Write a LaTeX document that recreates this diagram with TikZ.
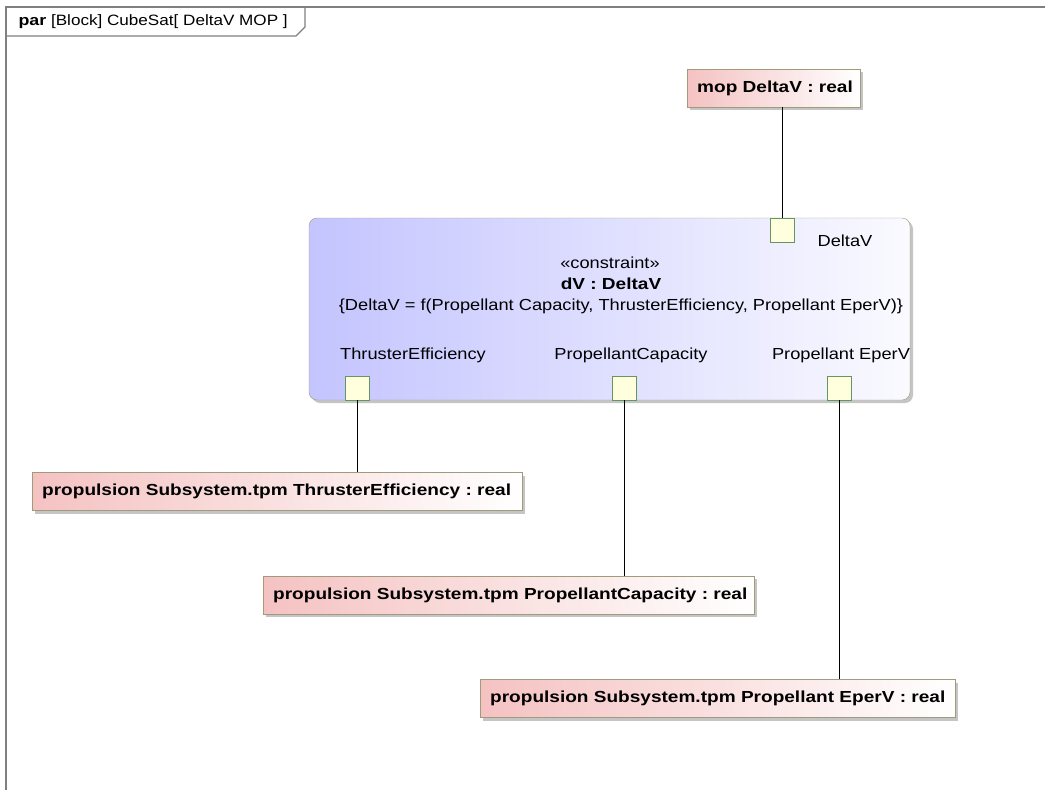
\documentclass[tikz,border=0pt]{standalone}
\usepackage{fontspec}
\setmainfont{Liberation Sans}[FakeStretch=1.14,BoldFeatures={FakeStretch=1.19}]
\usetikzlibrary{shadows}
\definecolor{valuepink}{RGB}{245,194,194}
\definecolor{valueedge}{RGB}{160,155,125}
\definecolor{blockblue}{RGB}{196,196,255}
\definecolor{blockwhite}{RGB}{250,250,255}
\definecolor{portfill}{RGB}{255,255,221}
\definecolor{portedge}{RGB}{100,150,100}
\definecolor{framegray}{RGB}{128,128,128}
\frenchspacing

\begin{document}
\begin{tikzpicture}[x=1pt,y=-1pt,font=\fontsize{16}{19}\selectfont,
    valuebox/.style={draw=valueedge,left color=valuepink,right color=white,
      drop shadow={shadow xshift=3pt,shadow yshift=-3pt,fill=black!45,opacity=0.5},
      anchor=west,minimum height=38pt,inner xsep=10pt,text width=#1,align=left,font=\fontsize{16}{19}\selectfont\bfseries},
    port/.style={draw=portedge,fill=portfill,minimum size=24pt,inner sep=0pt},
    wire/.style={black,line width=0.9pt}]
    % frame of the diagram
    \useasboundingbox (0,0) rectangle (1045,790);
    \fill[white] (0,0) rectangle (1045,790);
    \draw[framegray,line width=2pt] (6,790) -- (6,7) -- (1045,7);
    \draw[framegray,line width=1.2pt] (6,36) -- (296,36) -- (305,27) -- (305,7);
    \node[anchor=west,font=\fontsize{15}{18}\selectfont] (title) at (15,22) {\textbf{par} [Block] CubeSat[ DeltaV MOP ]};

    % constraint block
    \node[draw=valueedge,rounded corners=8pt,left color=blockblue,right color=blockwhite,
      drop shadow={shadow xshift=3pt,shadow yshift=-3pt,fill=black!45,opacity=0.5},
      minimum width=601pt,minimum height=182pt] (dV) at (609.5,309) {};
    \node (stereo) at (610,263) {«constraint»};
    \node[font=\fontsize{16}{19}\selectfont\bfseries] (dVname) at (611,284) {dV : DeltaV};
    \node (rule) at (621,306) {\{DeltaV = f(Propellant Capacity, ThrusterEfficiency, Propellant EperV)\}};

    % ports
    \node[port] (pDeltaV) at (782,230) {};
    \node (lDeltaV) at (845,241) {DeltaV};
    \node[port] (pThrust) at (357,388) {};
    \node (lThrust) at (413,355) {ThrusterEfficiency};
    \node[port] (pCap) at (624,388) {};
    \node (lCap) at (631,355) {PropellantCapacity};
    \node[port] (pEperV) at (839,388) {};
    \node (lEperV) at (841,355) {Propellant EperV};

    % value properties
    \node[valuebox=153pt] (mop) at (687,88) {\mbox{mop DeltaV : real}};
    \node[valuebox=470pt] (tpmThrust) at (32,491.5) {\mbox{propulsion Subsystem.tpm ThrusterEfficiency : real}};
    \node[valuebox=471pt] (tpmCap) at (263,595) {\mbox{propulsion Subsystem.tpm PropellantCapacity : real}};
    \node[valuebox=455pt] (tpmEperV) at (480,698.5) {\mbox{propulsion Subsystem.tpm Propellant EperV : real}};

    % binding connectors
    \draw[wire] (pDeltaV.north) -- (pDeltaV.north |- mop.south);
    \draw[wire] (pThrust.south) -- (pThrust.south |- tpmThrust.north);
    \draw[wire] (pCap.south) -- (pCap.south |- tpmCap.north);
    \draw[wire] (pEperV.south) -- (pEperV.south |- tpmEperV.north);
\end{tikzpicture}
\end{document}
